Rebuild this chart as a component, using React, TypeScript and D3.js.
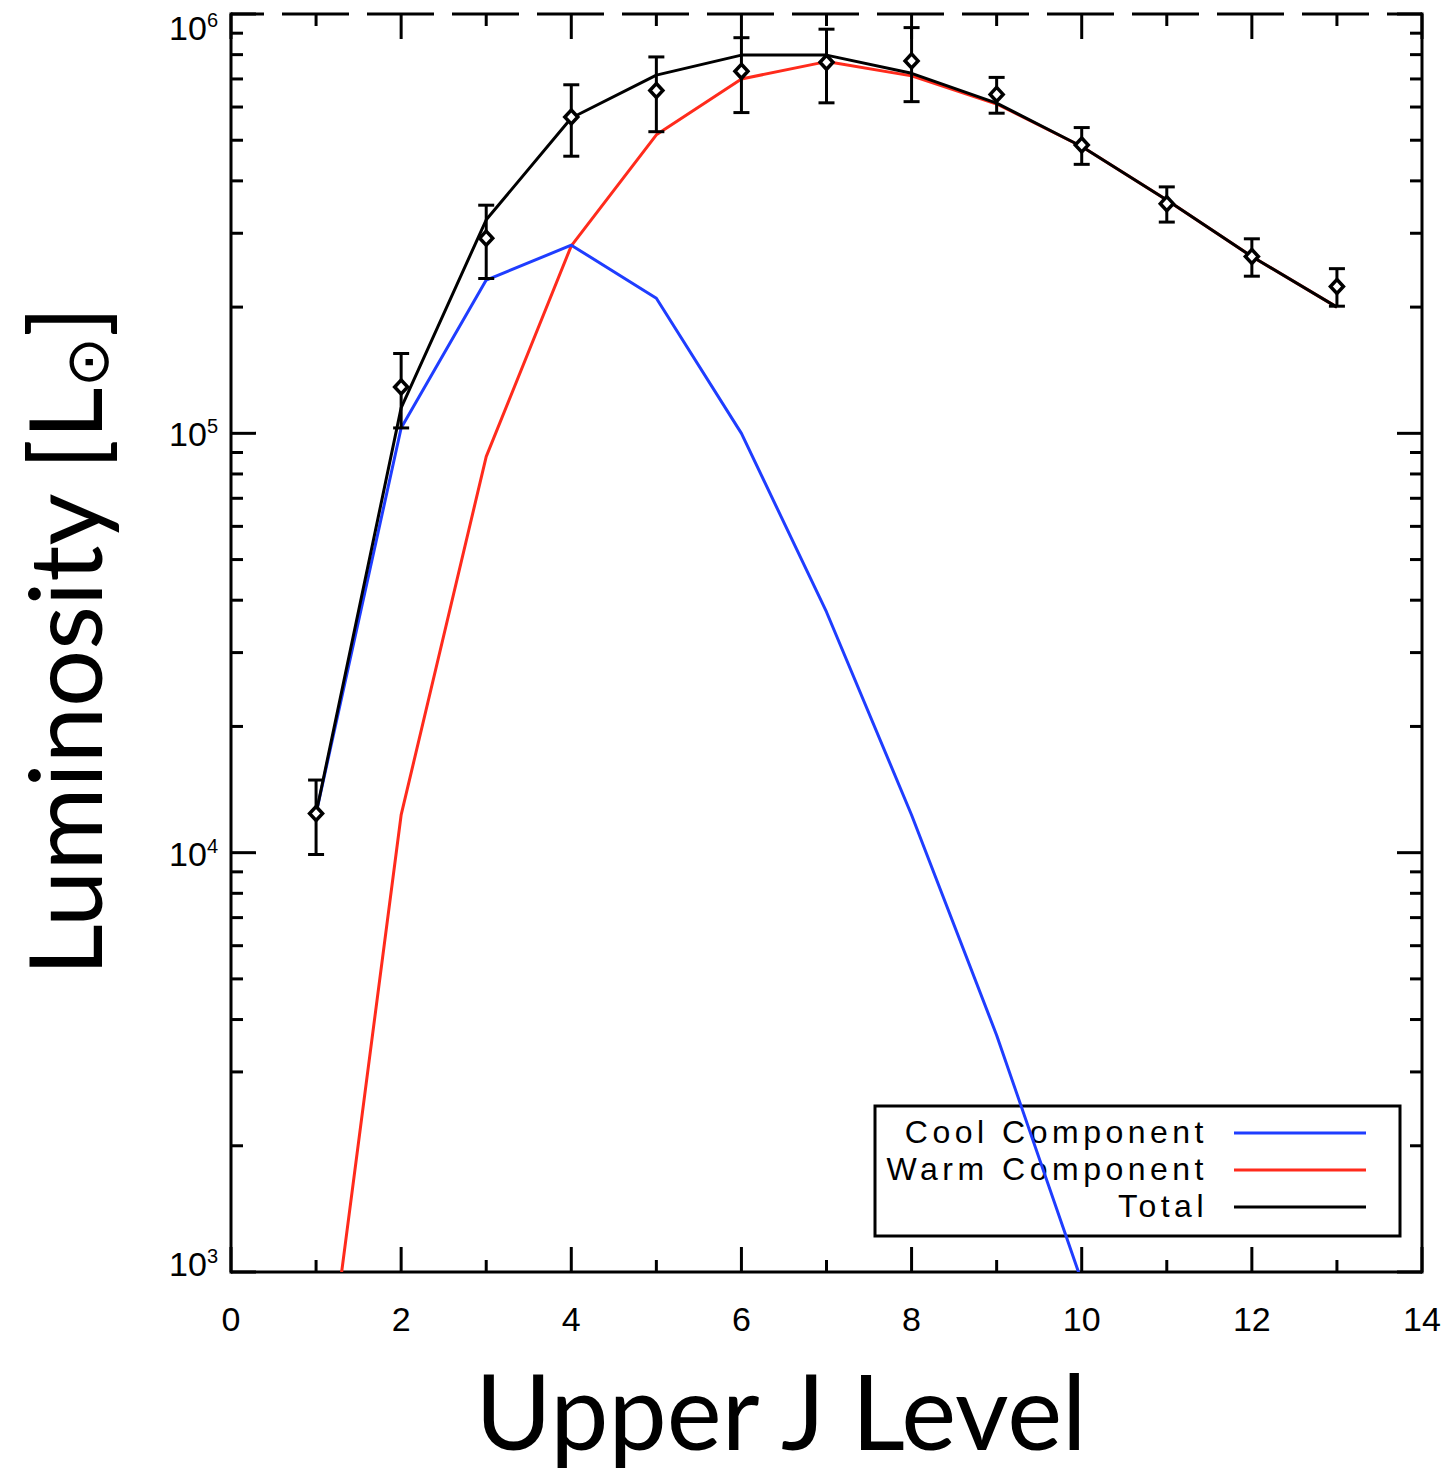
import React from "react";
import * as d3 from "d3";

// Upper rotational level J of each CO line
const levels = [1, 2, 3, 4, 5, 6, 7, 8, 9, 10, 11, 12, 13];
// Observed line luminosities (L_sun) and their 1-sigma uncertainties
const observedLum = [12400, 129000, 292000, 568000, 657000, 730000, 767000, 773000, 643000, 487000, 353000, 264000, 224000];
const observedErr = [2500, 26000, 58000, 110000, 133000, 148000, 153000, 155000, 63000, 49000, 34000, 27000, 23000];
// Two-component LVG model
const coolLevels = [1, 2, 3, 4, 5, 6, 7, 8, 9, 10];
const coolLum = [12400, 103000, 232000, 281000, 210000, 100000, 37500, 12300, 3670, 950];
const warmLum = [340, 12300, 88000, 280000, 515000, 700000, 770000, 712000, 610000, 483000, 360000, 264000, 200000];
const totalLum = [12400, 115000, 323000, 565000, 715000, 798000, 798000, 722000, 613000, 483000, 360000, 264000, 200000];

const xMajorTicks = [0, 2, 4, 6, 8, 10, 12, 14];
const xMinorTicks = [1, 3, 5, 7, 9, 11, 13];
const yDecades = [1e3, 1e4, 1e5, 1e6];
const yExponents = ["3", "4", "5", "6"];

const legendItems = [
  { label: "Cool Component", color: "#1f3dff" },
  { label: "Warm Component", color: "#ff2b1c" },
  { label: "Total", color: "#000000" },
];

const W = 1443;
const H = 1476;
const plot = { left: 231, right: 1422, top: 14, bottom: 1272 };

export default function App() {
  const x = d3.scaleLinear().domain([0, 14]).range([plot.left, plot.right]);
  const y = d3.scaleLog().domain([1e3, 1e6]).range([plot.bottom, plot.top]);

  const line = d3
    .line<[number, number]>()
    .x((d) => x(d[0]))
    .y((d) => y(d[1]));

  const coolPath = line(coolLevels.map((j, i) => [j, coolLum[i]]));
  const warmPath = line(levels.map((j, i) => [j, warmLum[i]]));
  const totalPath = line(levels.map((j, i) => [j, totalLum[i]]));

  const yMinor: number[] = [];
  yDecades.slice(0, 3).forEach((dec) => {
    for (let m = 2; m <= 9; m++) yMinor.push(dec * m);
  });

  const tickFont = "'Liberation Sans', Arial, sans-serif";
  const titleFont = "Lato, 'Open Sans', sans-serif";
  const axisW = 3;
  const majorLen = 25;
  const minorLen = 12;

  return (
    <svg
      width={W}
      height={H}
      viewBox={`0 0 ${W} ${H}`}
      style={{ position: "absolute", left: 0, top: 0, background: "#fff" }}
    >
      <defs>
        <clipPath id="plotClip">
          <rect x={plot.left} y={plot.top} width={plot.right - plot.left} height={plot.bottom - plot.top} />
        </clipPath>
      </defs>
      <rect x={0} y={0} width={W} height={H} fill="#fff" />

      {/* frame */}
      <line x1={plot.left} y1={plot.top} x2={plot.right} y2={plot.top} stroke="#000" strokeWidth={axisW} strokeDasharray="67 18" strokeDashoffset={34} />
      <line x1={plot.left} y1={plot.top - 1.5} x2={plot.left} y2={plot.bottom + 1.5} stroke="#000" strokeWidth={axisW} />
      <line x1={plot.right} y1={plot.top - 1.5} x2={plot.right} y2={plot.bottom + 1.5} stroke="#000" strokeWidth={axisW} />
      <line x1={plot.left} y1={plot.bottom} x2={plot.right} y2={plot.bottom} stroke="#000" strokeWidth={axisW} />

      {/* x ticks, bottom and top */}
      {xMajorTicks.map((t) => (
        <g key={`xM${t}`}>
          <line x1={x(t)} x2={x(t)} y1={plot.bottom} y2={plot.bottom - majorLen} stroke="#000" strokeWidth={axisW} />
          <line x1={x(t)} x2={x(t)} y1={plot.top} y2={plot.top + majorLen} stroke="#000" strokeWidth={axisW} />
          <text x={x(t)} y={1331} textAnchor="middle" fontFamily={tickFont} fontSize={34}>
            {t}
          </text>
        </g>
      ))}
      {xMinorTicks.map((t) => (
        <g key={`xm${t}`}>
          <line x1={x(t)} x2={x(t)} y1={plot.bottom} y2={plot.bottom - minorLen} stroke="#000" strokeWidth={axisW} />
          <line x1={x(t)} x2={x(t)} y1={plot.top} y2={plot.top + minorLen} stroke="#000" strokeWidth={axisW} />
        </g>
      ))}

      {/* y ticks, left and right */}
      {yDecades.map((v, i) => {
        const base = Math.min(Math.max(y(v) + 13, plot.top + 26), plot.bottom + 4);
        return (
          <g key={`yM${v}`}>
            <line x1={plot.left} x2={plot.left + majorLen} y1={y(v)} y2={y(v)} stroke="#000" strokeWidth={axisW} />
            <line x1={plot.right} x2={plot.right - majorLen} y1={y(v)} y2={y(v)} stroke="#000" strokeWidth={axisW} />
            <text x={218} y={base} textAnchor="end" fontFamily={tickFont} fontSize={34}>
              10
              <tspan fontSize={20} dy={-13}>
                {yExponents[i]}
              </tspan>
            </text>
          </g>
        );
      })}
      {yMinor.map((v) => (
        <g key={`ym${v}`}>
          <line x1={plot.left} x2={plot.left + minorLen} y1={y(v)} y2={y(v)} stroke="#000" strokeWidth={axisW} />
          <line x1={plot.right} x2={plot.right - minorLen} y1={y(v)} y2={y(v)} stroke="#000" strokeWidth={axisW} />
        </g>
      ))}

      {/* legend */}
      <rect x={875} y={1106} width={525} height={130} fill="none" stroke="#000" strokeWidth={3} />
      {legendItems.map((item, i) => (
        <g key={item.label}>
          <text
            x={1208}
            y={1143 + i * 37}
            textAnchor="end"
            fontFamily={tickFont}
            fontSize={32}
            letterSpacing={4.5}
          >
            {item.label}
          </text>
          <line x1={1234} x2={1366} y1={1133 + i * 37} y2={1133 + i * 37} stroke={item.color} strokeWidth={3} />
        </g>
      ))}

      {/* model curves */}
      <g clipPath="url(#plotClip)" fill="none" strokeWidth={3} strokeLinejoin="round">
        <path d={warmPath ?? ""} stroke="#ff2b1c" />
        <path d={coolPath ?? ""} stroke="#1f3dff" />
        <path d={totalPath ?? ""} stroke="#000" />
      </g>

      {/* observations with error bars */}
      <g stroke="#000" strokeWidth={3}>
        {levels.map((j, i) => {
          const cx = x(j);
          const lo = y(observedLum[i] - observedErr[i]);
          const hi = y(observedLum[i] + observedErr[i]);
          const cy = y(observedLum[i]);
          return (
            <g key={`obs${j}`}>
              <line x1={cx} x2={cx} y1={lo} y2={hi} />
              <line x1={cx - 8} x2={cx + 8} y1={lo} y2={lo} />
              <line x1={cx - 8} x2={cx + 8} y1={hi} y2={hi} />
              <path
                d={`M${cx},${cy - 7}L${cx + 6.5},${cy}L${cx},${cy + 7}L${cx - 6.5},${cy}Z`}
                fill="#fff"
                strokeWidth={3.5}
              />
            </g>
          );
        })}
      </g>

      {/* axis titles */}
      <text
        x={781}
        y={1450}
        textAnchor="middle"
        fontFamily={titleFont}
        fontSize={104}
      >
        Upper J Level
      </text>
      <text
        transform={`translate(102, 641) rotate(-90)`}
        textAnchor="middle"
        fontFamily={titleFont}
        fontSize={101}
      >
        Luminosity [L
        <tspan fontFamily="'DejaVu Sans', sans-serif" fontSize={60} dy={6}>
          ⊙
        </tspan>
        <tspan dy={-6}>]</tspan>
      </text>
    </svg>
  );
}
